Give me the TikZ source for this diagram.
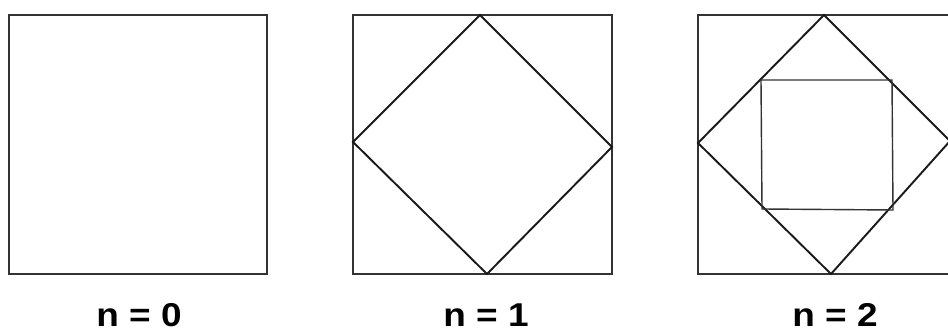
\documentclass[tikz,border=0pt]{standalone}
\usepackage{fontspec}
\setmainfont{Liberation Sans}
\usetikzlibrary{calc}

\tikzset{frame/.style={line width=1.4pt,black!80},
  tilt/.style={line width=1.9pt,black!90,line join=miter},
  lbl/.style={font=\fontsize{33}{35}\bfseries\selectfont,inner sep=0pt,anchor=base,xscale=1.12}}

\begin{document}
\begin{tikzpicture}[x=1pt,y=-1pt]
\useasboundingbox (0,0) rectangle (948,336);
\clip (0,0) rectangle (948,336);
% n = 0
\draw[frame](9,15)rectangle(267,274);
% n = 1
\draw[frame](353,15)rectangle(612,274);
\coordinate (t1) at (480,15);
\coordinate (r1) at (612,147);
\coordinate (b1) at (487,274);
\coordinate (l1) at (353,142);
\draw[tilt](t1)--(r1)--(b1)--(l1)--cycle;
% n = 2
\draw[frame](698,15)rectangle(956,274);
\coordinate (t2) at (824,15);
\coordinate (r2) at (950,141);
\coordinate (b2) at (831,274);
\coordinate (l2) at (698,143);
\draw[tilt](t2)--(r2)--(b2)--(l2)--cycle;
\coordinate (q1) at (761,80);
\coordinate (q2) at (892,80);
\coordinate (q3) at (893,210);
\coordinate (q4) at (762,209);
\draw[frame](q1)--(q2)--(q3)--(q4)--cycle;
% labels
\node[lbl](n0)at(139,327){n = 0};
\node[lbl](n1)at(486,327){n = 1};
\node[lbl](n2)at(835,327){n = 2};
\end{tikzpicture}
\end{document}
